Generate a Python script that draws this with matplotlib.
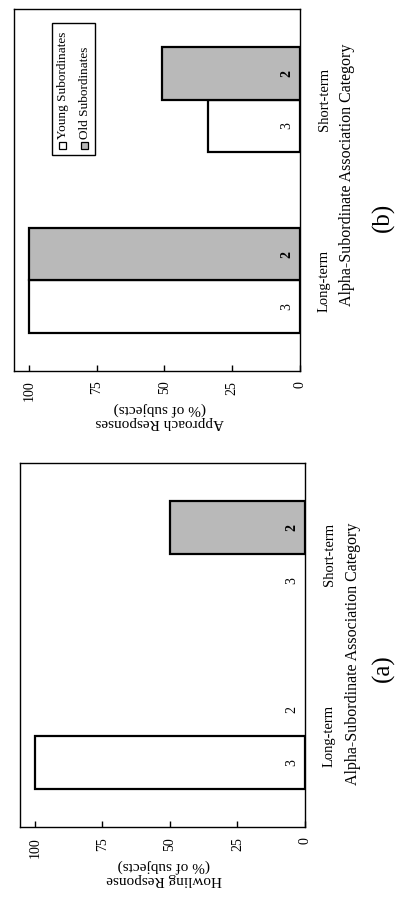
import matplotlib
matplotlib.use("Agg")
import matplotlib.pyplot as plt
from matplotlib.patches import Rectangle
import numpy as np

# data (values in % of subjects)
CATEGORIES = ["Long-term", "Short-term"]
HOWL_YOUNG = [100, 0]
HOWL_OLD = [0, 50]
APPROACH_YOUNG = [100, 34]
APPROACH_OLD = [100, 51]
N_YOUNG = [3, 3]
N_OLD = [2, 2]
VALUE_TICKS = [0, 25, 50, 75, 100]
SERIES = ["Young Subordinates", "Old Subordinates"]

plt.rcParams["font.family"] = ["Liberation Serif", "DejaVu Serif"]

OLD_COLOR = "#b9b9b9"
BAR_W = 0.29


def draw_panel(ax, young, old, ylabel, lab_xy, cat_xy):
    y = np.arange(len(CATEGORIES))
    # no outline for empty bars
    lw_y = [1.6 if v > 0 else 0 for v in young]
    lw_o = [1.6 if v > 0 else 0 for v in old]
    ax.barh(y - BAR_W / 2, young, height=BAR_W, color="white",
            edgecolor="black", linewidth=lw_y)
    ax.barh(y + BAR_W / 2, old, height=BAR_W, color=OLD_COLOR,
            edgecolor="black", linewidth=lw_o)

    # sample sizes near the baseline
    for i in range(len(CATEGORIES)):
        ax.text(4.8, y[i] - BAR_W / 2, str(N_YOUNG[i]), rotation=90,
                ha="center", va="center", fontsize=10)
        ax.text(4.8, y[i] + BAR_W / 2, str(N_OLD[i]), rotation=90,
                ha="center", va="center", fontsize=10,
                fontweight="bold" if old[i] > 0 else "normal")

    ax.set_xlim(105.5, 0)
    ax.set_ylim(-0.5, 1.5)

    ax.set_xticks(VALUE_TICKS)
    ax.set_xticklabels([str(v) for v in VALUE_TICKS], rotation=90)
    ax.tick_params(axis="x", direction="in", length=4, width=1, pad=7,
                   labelsize=10)

    ax.yaxis.tick_right()
    ax.set_yticks(y)
    ax.set_yticklabels(CATEGORIES, rotation=90, va="center")
    ax.tick_params(axis="y", length=0, pad=13, labelsize=10.5)

    for s in ax.spines.values():
        s.set_linewidth(1.0)

    ax.text(lab_xy[0], lab_xy[1], ylabel, transform=ax.transAxes,
            rotation=180, ha="center", va="center", fontsize=11,
            linespacing=1.0)
    ax.text(cat_xy[0], cat_xy[1], "Alpha-Subordinate Association Category",
            transform=ax.transAxes, rotation=90, ha="center", va="center",
            fontsize=11.5)


fig = plt.figure(figsize=(4, 9.02), dpi=100)

ax_b = fig.add_axes([0.035, 0.5887, 0.715, 0.4013])
ax_a = fig.add_axes([0.05, 0.0831, 0.7125, 0.4036])

draw_panel(ax_b, APPROACH_YOUNG, APPROACH_OLD,
           "Approach Responses\n(% of subjects)", (0.51, -0.122), (1.164, 0.541))
draw_panel(ax_a, HOWL_YOUNG, HOWL_OLD,
           "Howling Response\n(% of subjects)", (0.505, -0.126), (1.168, 0.475))

# legend drawn by hand so it can be rotated like the rest
ax_b.add_patch(Rectangle((0.133, 0.597), 0.150, 0.364, transform=ax_b.transAxes,
                         facecolor="white", edgecolor="black", linewidth=1.0,
                         zorder=5))
sq_w, sq_h = 7 / 286, 7 / 362
for xc, name, col in [(0.171, SERIES[0], "white"), (0.248, SERIES[1], OLD_COLOR)]:
    ax_b.add_patch(Rectangle((xc - sq_w / 2, 0.624 - sq_h / 2), sq_w, sq_h,
                             transform=ax_b.transAxes, facecolor=col,
                             edgecolor="black", linewidth=0.9, zorder=6))
    ax_b.text(xc, 0.624 + sq_h / 2 + 0.006, name, transform=ax_b.transAxes,
              rotation=90, ha="center", va="bottom", fontsize=9.5, zorder=6)

fig.text(0.9575, 0.7594, "(b)", rotation=90, ha="center", va="center", fontsize=18)
fig.text(0.9575, 0.2594, "(a)", rotation=90, ha="center", va="center", fontsize=18)

fig.savefig("out.png", dpi=100)
